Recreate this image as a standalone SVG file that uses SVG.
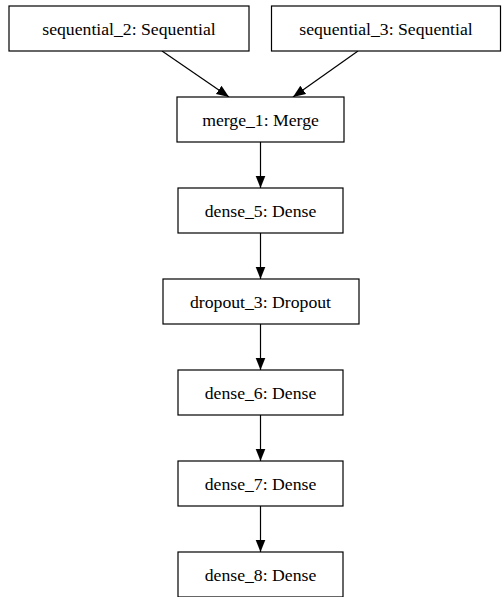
<svg xmlns="http://www.w3.org/2000/svg" width="502" height="597" viewBox="0 0 502 597">
<style>
.box{fill:#fff;stroke:#000;stroke-width:1.2}
.lbl{font-family:"Liberation Serif","Times New Roman",serif;font-size:17.7px;fill:#000;text-anchor:middle}
.edge{stroke:#000;stroke-width:1.2;fill:none;marker-end:url(#ah)}
</style>
<defs>
<marker id="ah" markerUnits="userSpaceOnUse" markerWidth="14" markerHeight="12" refX="12.5" refY="5.5" orient="auto">
<path d="M0,0.5 L12.5,5.5 L0,10.5 Z" fill="#000"/>
</marker>
</defs>
<rect width="502" height="597" fill="#fff"/>
<g id="connectors">
<line class="edge" x1="162" y1="51" x2="229" y2="97"/>
<line class="edge" x1="358" y1="51" x2="293" y2="97"/>
<line class="edge" x1="260.5" y1="142" x2="260.5" y2="188"/>
<line class="edge" x1="260.5" y1="233" x2="260.5" y2="279"/>
<line class="edge" x1="260.5" y1="324" x2="260.5" y2="370"/>
<line class="edge" x1="260.5" y1="415" x2="260.5" y2="461"/>
<line class="edge" x1="260.5" y1="506" x2="260.5" y2="552"/>
</g>
<g id="sequential_2"><rect class="box" x="9" y="6" width="240" height="45"/><text class="lbl" x="129" y="34.5">sequential_2: Sequential</text></g>
<g id="sequential_3"><rect class="box" x="271.5" y="6" width="229" height="45"/><text class="lbl" x="386" y="34.5">sequential_3: Sequential</text></g>
<g id="merge_1"><rect class="box" x="177" y="97" width="167" height="45"/><text class="lbl" x="260.5" y="125.5">merge_1: Merge</text></g>
<g id="dense_5"><rect class="box" x="178" y="188" width="165" height="45"/><text class="lbl" x="260.5" y="216.5">dense_5: Dense</text></g>
<g id="dropout_3"><rect class="box" x="163" y="279" width="196" height="45"/><text class="lbl" x="260.5" y="307.5">dropout_3: Dropout</text></g>
<g id="dense_6"><rect class="box" x="178" y="370" width="165" height="45"/><text class="lbl" x="260.5" y="398.5">dense_6: Dense</text></g>
<g id="dense_7"><rect class="box" x="178" y="461" width="165" height="45"/><text class="lbl" x="260.5" y="489.5">dense_7: Dense</text></g>
<g id="dense_8"><rect class="box" x="178" y="552" width="165" height="45"/><text class="lbl" x="260.5" y="580.5">dense_8: Dense</text></g>
</svg>
